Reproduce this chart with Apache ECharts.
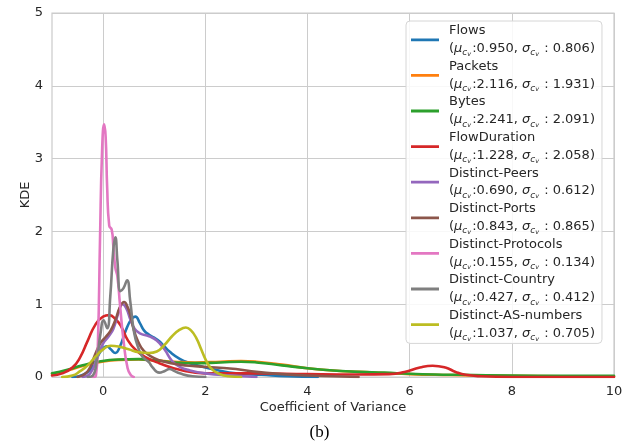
<!DOCTYPE html>
<html>
<head>
<meta charset="utf-8">
<script src="https://cdn.jsdelivr.net/npm/echarts@6/dist/echarts.min.js"></script>
<style>
  html, body { margin: 0; padding: 0; background: #fff; }
  #chart { width: 639px; height: 445px; }
</style>
</head>
<body>
<div id="chart"></div>
<script>
// series names and their stats (mean / std of the coefficient of variance)
const names = ['Flows', 'Packets', 'Bytes', 'FlowDuration', 'Distinct-Peers',
  'Distinct-Ports', 'Distinct-Protocols', 'Distinct-Country', 'Distinct-AS-numbers']
const mus = ['0.950', '2.116', '2.241', '1.228', '0.690', '0.843', '0.155', '0.427', '1.037']
const sigmas = ['0.806', '1.931', '2.091', '2.058', '0.612', '0.865', '0.134', '0.412', '0.705']
const colors = ['#1f77b4', '#ff7f0e', '#2ca02c', '#d62728', '#9467bd',
  '#8c564b', '#e377c2', '#7f7f7f', '#bcbd22']

const xTicks = [0, 2, 4, 6, 8, 10]

// KDE curves, [x, density]
const flows = [[-0.6, 0], [-0.4, 0.03], [-0.2, 0.15], [-0.05, 0.35], [0.08, 0.42], [0.15, 0.38],
  [0.24, 0.33], [0.33, 0.42], [0.45, 0.65], [0.55, 0.79], [0.63, 0.83], [0.72, 0.74], [0.8, 0.64],
  [0.9, 0.58], [1.0, 0.54], [1.1, 0.49], [1.2, 0.42], [1.3, 0.35], [1.5, 0.25], [1.7, 0.19],
  [1.95, 0.14], [2.2, 0.1], [2.6, 0.05], [3.1, 0.03], [3.6, 0.01], [4.2, 0]]
const packets = [[-1.0, 0.04], [-0.7, 0.09], [-0.4, 0.15], [-0.1, 0.2], [0.3, 0.235], [0.7, 0.24],
  [1.0, 0.23], [1.4, 0.21], [1.8, 0.2], [2.3, 0.21], [2.7, 0.22], [3.0, 0.21], [3.5, 0.17],
  [4.0, 0.12], [4.5, 0.09], [5.0, 0.07], [5.5, 0.055], [6.0, 0.04], [6.5, 0.03], [7.0, 0.025],
  [8.0, 0.015], [9.0, 0.01], [10.0, 0.008]]
const bytes = [[-1.0, 0.05], [-0.7, 0.1], [-0.4, 0.16], [-0.1, 0.21], [0.3, 0.24], [0.7, 0.245],
  [1.0, 0.23], [1.4, 0.2], [1.8, 0.19], [2.3, 0.2], [2.7, 0.21], [3.0, 0.2], [3.5, 0.16],
  [4.0, 0.12], [4.5, 0.09], [5.0, 0.07], [5.5, 0.06], [6.0, 0.045], [6.5, 0.035], [7.0, 0.03],
  [8.0, 0.02], [9.0, 0.017], [10.0, 0.015]]
const flowDuration = [[-1.0, 0.02], [-0.8, 0.05], [-0.6, 0.13], [-0.45, 0.27], [-0.3, 0.5],
  [-0.15, 0.72], [0, 0.83], [0.12, 0.85], [0.25, 0.79], [0.35, 0.7], [0.48, 0.51], [0.64, 0.37],
  [0.84, 0.27], [1.1, 0.19], [1.5, 0.1], [2.0, 0.05], [2.5, 0.05], [3.0, 0.05], [4.0, 0.04],
  [5.0, 0.035], [5.6, 0.04], [5.9, 0.07], [6.2, 0.13], [6.45, 0.155], [6.7, 0.13], [6.9, 0.07],
  [7.1, 0.03], [7.4, 0.01], [8.0, 0], [10.0, 0]]
const peers = [[-0.4, 0], [-0.25, 0.05], [-0.1, 0.3], [0, 0.46], [0.1, 0.55], [0.2, 0.66],
  [0.3, 0.88], [0.38, 1.0], [0.45, 0.95], [0.54, 0.78], [0.62, 0.66], [0.72, 0.6], [0.9, 0.56],
  [1.05, 0.5], [1.2, 0.38], [1.35, 0.22], [1.5, 0.14], [1.7, 0.09], [2.0, 0.05], [2.5, 0.02], [3.0, 0]]
const ports = [[-0.5, 0], [-0.3, 0.08], [-0.15, 0.32], [-0.05, 0.47], [0.05, 0.55], [0.15, 0.64],
  [0.25, 0.8], [0.33, 0.96], [0.41, 1.03], [0.48, 0.96], [0.54, 0.83], [0.6, 0.65], [0.67, 0.51],
  [0.75, 0.4], [0.84, 0.33], [1.0, 0.26], [1.2, 0.21], [1.5, 0.17], [1.8, 0.15], [2.2, 0.13],
  [2.6, 0.11], [3.0, 0.07], [3.5, 0.04], [4.0, 0.02], [4.5, 0.01], [5.0, 0]]
const protocols = [[-0.2, 0], [-0.14, 0.02], [-0.1, 0.5], [-0.06, 1.9], [-0.02, 3.1], [0.02, 3.47],
  [0.05, 3.3], [0.08, 2.6], [0.12, 2.08], [0.17, 2.02], [0.2, 1.8], [0.24, 1.5], [0.28, 1.38],
  [0.33, 1.0], [0.4, 0.5], [0.48, 0.12], [0.55, 0.02], [0.6, 0]]
const country = [[-0.3, 0], [-0.2, 0.02], [-0.12, 0.25], [-0.05, 0.6], [0.01, 0.78], [0.08, 0.67],
  [0.14, 1.1], [0.2, 1.75], [0.24, 1.92], [0.28, 1.6], [0.34, 1.18], [0.4, 1.22], [0.47, 1.33],
  [0.53, 1.05], [0.61, 0.6], [0.7, 0.38], [0.77, 0.28], [0.9, 0.2], [0.96, 0.14], [1.1, 0.06],
  [1.2, 0.08], [1.3, 0.11], [1.4, 0.08], [1.5, 0.05], [1.75, 0.01], [2.0, 0]]
const asNumbers = [[-0.8, 0], [-0.6, 0.02], [-0.45, 0.08], [-0.3, 0.16], [-0.15, 0.28], [0, 0.38],
  [0.15, 0.43], [0.3, 0.42], [0.5, 0.38], [0.7, 0.34], [0.9, 0.33], [1.05, 0.35], [1.2, 0.44],
  [1.35, 0.56], [1.5, 0.65], [1.62, 0.68], [1.72, 0.64], [1.82, 0.54], [1.92, 0.38], [2.0, 0.25],
  [2.1, 0.13], [2.25, 0.05], [2.45, 0.01], [2.7, 0]]

const curves = [flows, packets, bytes, flowDuration, peers, ports, protocols, country, asNumbers]

const font = 'DejaVu Sans'
const textColor = '#262626'
const gridColor = '#cccccc'
const lh = 17.8

const chart = echarts.init(document.getElementById('chart'), null, { renderer: 'canvas' })

const option = {
  animation: false,
  color: colors,
  textStyle: { fontFamily: font },
  grid: {
    left: 52, right: 25, top: 13, bottom: 68,
    show: true, borderColor: gridColor, borderWidth: 1.25, backgroundColor: '#fff'
  },
  legend: {
    orient: 'vertical',
    left: 406, top: 21,
    padding: [1, 7, 1, 5],
    // icon path leaves a blank strip on the right so the text sits ~10px after the line
    itemWidth: 33, itemHeight: 12, itemGap: 0,
    backgroundColor: 'rgba(255,255,255,0.85)',
    borderColor: '#d6d6d6', borderWidth: 1, borderRadius: 4,
    icon: 'path://M0,4.6 L28,4.6 L28,7.4 L0,7.4 Z M0,0 L0,0 Z M33,12 L33,12 Z',
    data: names,
    formatter: function (name) {
      const i = names.indexOf(name)
      return name + '\n(' + '{g|μ}{c|c}{v|v}:' + mus[i] + ', {g|σ}{c|c}{v|v} : ' + sigmas[i] + ')'
    },
    textStyle: {
      fontFamily: font, fontSize: 13, color: textColor, lineHeight: lh,
      rich: {
        g: { fontFamily: font, fontSize: 13, fontStyle: 'italic', color: textColor, lineHeight: lh },
        c: { fontFamily: font, fontSize: 9, fontStyle: 'italic', color: textColor, lineHeight: lh, verticalAlign: 'bottom', padding: [5, 0, 0, 0] },
        v: { fontFamily: font, fontSize: 6.5, fontStyle: 'italic', color: textColor, lineHeight: lh, verticalAlign: 'bottom', padding: [8, 1, 0, 0] }
      }
    }
  },
  xAxis: {
    type: 'value', min: -1, max: 10,
    name: 'Coefficient of Variance', nameLocation: 'middle', nameGap: 24, nameMoveOverlap: false,
    nameTextStyle: { fontFamily: font, fontSize: 13, color: textColor },
    axisLine: { show: false },
    axisTick: { show: false, customValues: xTicks },
    axisLabel: { customValues: xTicks, margin: 8, fontFamily: font, fontSize: 13, color: textColor },
    splitLine: { show: true, lineStyle: { color: gridColor, width: 1 } }
  },
  yAxis: {
    type: 'value', min: 0, max: 5, interval: 1,
    name: 'KDE', nameLocation: 'middle', nameGap: 20, nameMoveOverlap: false,
    nameTextStyle: { fontFamily: font, fontSize: 13, color: textColor },
    axisLine: { show: false },
    axisTick: { show: false },
    axisLabel: { margin: 9, fontFamily: font, fontSize: 13, color: textColor },
    splitLine: { show: true, lineStyle: { color: gridColor, width: 1 } }
  },
  graphic: [{
    type: 'text', left: 'center', top: 424,
    style: { text: '(b)', fontFamily: 'Liberation Serif', fontSize: 17, fill: '#000' }
  }],
  series: curves.map((d, i) => ({
    name: names[i],
    type: 'line',
    data: d,
    smooth: 0.5,
    showSymbol: false,
    symbol: 'none',
    lineStyle: { width: 2.6, color: colors[i], join: 'round', cap: 'round' },
    emphasis: { disabled: true },
    z: 2 + i
  }))
}

chart.setOption(option)
</script>
</body>
</html>
